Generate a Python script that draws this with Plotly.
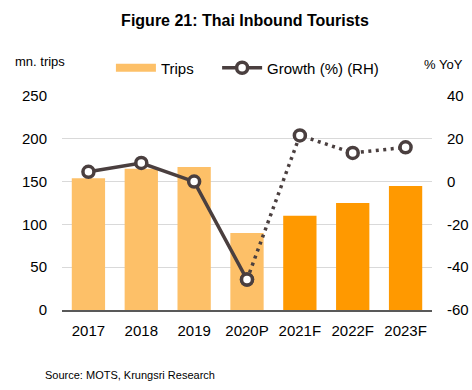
import plotly.graph_objects as go

years = ["2017", "2018", "2019", "2020P", "2021F", "2022F", "2023F"]
trips = [154, 165, 167, 90, 110, 125, 145]
growth = [4.6, 8.7, 0.0, -45.8, 21.6, 13.4, 16.0]
bar_colors = ["#FDC068", "#FDC068", "#FDC068", "#FDC068", "#FF9900", "#FF9900", "#FF9900"]
left_ticks = [0, 50, 100, 150, 200, 250]
right_ticks = [-60, -40, -20, 0, 20, 40]
right_tick_text = ["-60", "-40", "-20", "0", "20", "40"]

line_color = "#4A3F3F"
font_family = "Liberation Sans, Arial, sans-serif"

fig = go.Figure()
fig.add_trace(go.Bar(
    x=years, y=trips, name="Trips", marker=dict(color=bar_colors, line=dict(width=0)),
    yaxis="y", showlegend=False,
))
# legend entry for bars (wide swatch like the reference)
fig.add_trace(go.Scatter(
    x=[None], y=[None], name="Trips", mode="lines",
    line=dict(color="#FDC068", width=8), yaxis="y", legend="legend",
))
fig.add_trace(go.Scatter(
    x=years[3:], y=growth[3:], name="Growth (%) (RH)", mode="lines+markers",
    line=dict(color=line_color, width=3.5, dash="3px,4.5px"),
    marker=dict(size=11, color="white", line=dict(color=line_color, width=3.5)),
    yaxis="y2", showlegend=False,
))
fig.add_trace(go.Scatter(
    x=years[:4], y=growth[:4], name="Growth (%) (RH)", mode="lines+markers",
    line=dict(color=line_color, width=3.5),
    marker=dict(size=11, color="white", line=dict(color=line_color, width=3.5)),
    yaxis="y2", legend="legend2",
))
legend_common = dict(orientation="h", xref="container", yref="container",
                     xanchor="left", y=1 - 68 / 390, yanchor="middle",
                     font=dict(size=15), itemwidth=40,
                     bgcolor="rgba(0,0,0,0)", borderwidth=0)
fig.update_layout(
    width=472, height=390,
    margin=dict(l=62, r=40, t=96, b=80, autoexpand=False),
    paper_bgcolor="white", plot_bgcolor="white",
    font=dict(family=font_family, size=15, color="#000000"),
    bargap=0.37,
    showlegend=True,
    legend=dict(x=0.235, **legend_common),
    legend2=dict(x=0.46, **legend_common),
    title=dict(text="<b>Figure 21: Thai Inbound Tourists</b>", xref="container", yref="container",
               x=0.519, xanchor="center", y=1 - 20 / 390, yanchor="middle",
               font=dict(size=16, color="#000000")),
    xaxis=dict(showgrid=False, showline=True, linecolor="#595959", linewidth=1.5,
               ticks="", tickfont=dict(size=15), ticklabelstandoff=6, automargin=False),
    yaxis=dict(range=[0, 250], tickvals=left_ticks, showgrid=True, gridcolor="#D9D9D9",
               gridwidth=1, zeroline=False, showline=False, ticks="", ticklabelstandoff=14,
               tickfont=dict(size=15), automargin=False),
    yaxis2=dict(range=[-60, 40], tickvals=right_ticks, ticktext=right_tick_text,
                overlaying="y", side="right", showgrid=False,
                zeroline=False, showline=False, ticks="", ticklabelstandoff=14,
                tickfont=dict(size=15), automargin=False),
    annotations=[
        dict(text="mn. trips", xref="paper", yref="paper", x=-0.132, y=1.159,
             xanchor="left", yanchor="middle", showarrow=False, font=dict(size=13)),
        dict(text="% YoY", xref="paper", yref="paper", x=1.089, y=1.145,
             xanchor="right", yanchor="middle", showarrow=False, font=dict(size=13)),
        dict(text="Source: MOTS, Krungsri Research", xref="paper", yref="paper",
             x=-0.051, y=-0.304, xanchor="left", yanchor="middle", showarrow=False,
             font=dict(size=11)),
    ],
)
fig.write_html("out.html", config={"displayModeBar": False},
               post_script="document.body.style.margin='0';document.body.style.overflow='hidden';")
